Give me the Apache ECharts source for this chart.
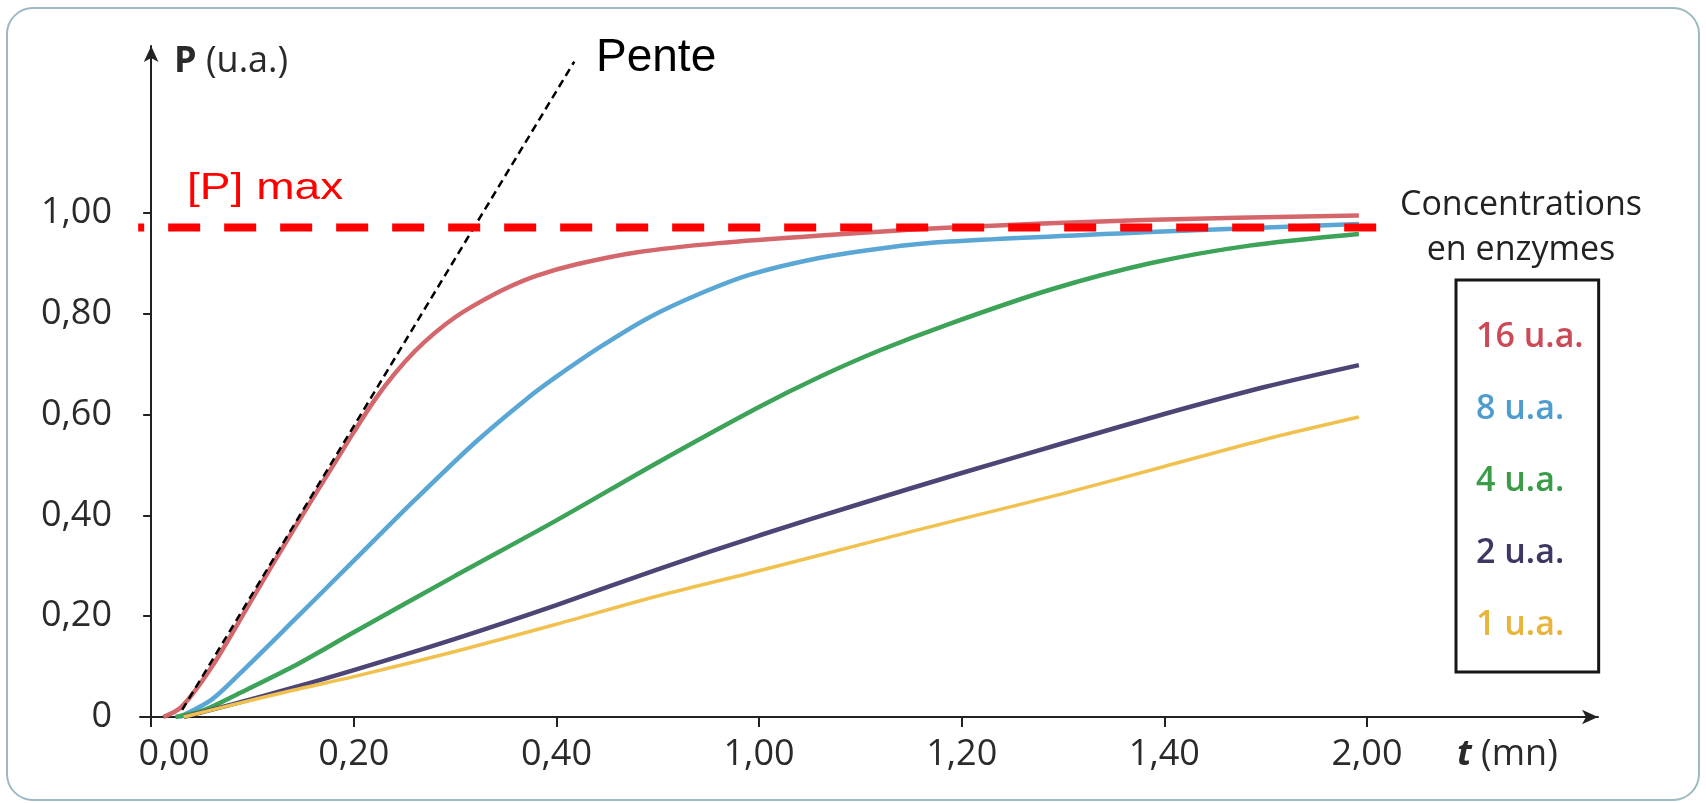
<!DOCTYPE html>
<html>
<head>
<meta charset="utf-8">
<script src="https://cdn.jsdelivr.net/npm/echarts@6/dist/echarts.min.js"></script>
<style>
  html, body { margin: 0; padding: 0; background: #fff; }
  #main { width: 1706px; height: 803px; }
</style>
</head>
<body>
<div id="main"></div>
<script>
// graduations de l'axe des temps (positions 0..6, étiquettes du document)
const xTickLabels = ['0,00', '0,20', '0,40', '1,00', '1,20', '1,40', '2,00']
const yTicks = [0, 0.2, 0.4, 0.6, 0.8, 1.0]

const seriesNames = ['16 u.a.', '8 u.a.', '4 u.a.', '2 u.a.', '1 u.a.']
const lineColors = ['#d4676c', '#5aa6d4', '#3da358', '#4d4575', '#f0c14e']
const textColors = ['#cc4a55', '#4f9dcf', '#3a9c47', '#3d3762', '#e9b43c']

// [t (position sur l'axe), P]
const enz16 = [[0.06, 0], [0.15, 0.02], [0.3, 0.1], [0.5, 0.235], [0.7, 0.37], [0.9, 0.5],
  [1.0, 0.565], [1.1, 0.627], [1.2, 0.68], [1.3, 0.725], [1.4, 0.762], [1.5, 0.793],
  [1.6, 0.818], [1.75, 0.85], [1.9, 0.875], [2.1, 0.898], [2.4, 0.922], [2.8, 0.94],
  [3.3, 0.955], [3.9, 0.97], [4.9, 0.986], [5.96, 0.995]]
const enz8 = [[0.14, 0], [0.3, 0.035], [0.44, 0.087], [0.7, 0.19], [1.0, 0.31], [1.3, 0.43],
  [1.6, 0.545], [1.85, 0.63], [2.0, 0.675], [2.22, 0.735], [2.46, 0.793], [2.71, 0.84],
  [2.96, 0.878], [3.29, 0.91], [3.61, 0.93], [3.94, 0.943], [4.93, 0.962], [5.96, 0.978]]
const enz4 = [[0.12, 0], [0.25, 0.012], [0.44, 0.048], [0.7, 0.1], [1.0, 0.168], [1.5, 0.28],
  [2.0, 0.39], [2.5, 0.505], [3.0, 0.615], [3.3, 0.675], [3.6, 0.728], [3.94, 0.78],
  [4.44, 0.848], [4.93, 0.9], [5.42, 0.935], [5.96, 0.958]]
const enz2 = [[0.16, 0], [0.4, 0.025], [0.7, 0.058], [1.0, 0.093], [1.5, 0.155], [2.0, 0.222],
  [2.5, 0.293], [3.0, 0.36], [3.5, 0.423], [4.0, 0.484], [4.5, 0.543], [5.0, 0.601],
  [5.5, 0.655], [5.96, 0.698]]
const enz1 = [[0.16, 0], [0.4, 0.024], [0.7, 0.053], [1.0, 0.08], [1.5, 0.13], [2.0, 0.184],
  [2.5, 0.24], [3.0, 0.29], [3.5, 0.342], [4.0, 0.393], [4.5, 0.443], [5.0, 0.497],
  [5.5, 0.551], [5.96, 0.595]]
const curves = [enz16, enz8, enz4, enz2, enz1]

// tangente à l'origine et plateau
const pente = [[0.153, 0.014], [2.088, 1.30]]
const pMax = [[-0.064, 0.971], [6.046, 0.971]]

const chartDom = document.getElementById('main')
const myChart = echarts.init(chartDom)
const font = '"Open Sans", "DejaVu Sans", sans-serif'

const series = curves.map((d, i) => ({
  name: seriesNames[i],
  type: 'line',
  data: d,
  smooth: 0.3,
  showSymbol: false,
  lineStyle: {color: lineColors[i], width: i === 4 ? 3.5 : 4.5},
  itemStyle: {color: lineColors[i]}
}))

series.push({
  name: 'Pente',
  type: 'line',
  data: pente,
  showSymbol: false,
  lineStyle: {color: '#000', width: 2.5, type: [8, 5]}
})
series.push({
  name: '[P] max',
  type: 'line',
  data: pMax,
  clip: false,
  showSymbol: false,
  lineStyle: {color: '#ff0000', width: 8, type: [32, 24], dashOffset: 26}
})

const option = {
  animation: false,
  backgroundColor: '#fff',
  grid: {left: 140, right: 108, top: 46, bottom: 86},
  xAxis: {
    type: 'value',
    min: -0.055,
    max: 7.14,
    splitLine: {show: false},
    axisLine: {
      lineStyle: {color: '#222', width: 2},
      symbol: ['none', 'arrow'],
      symbolSize: [11, 16]
    },
    axisTick: {
      show: true,
      customValues: [0, 1, 2, 3, 4, 5, 6],
      length: 10,
      lineStyle: {color: '#222', width: 2}
    },
    axisLabel: {
      customValues: [0, 1, 2, 3, 4, 5, 6],
      // le premier libellé est décalé à droite pour ne pas toucher l'axe vertical
      formatter: v => v === 0 ? '{first|' + xTickLabels[0] + '}' : xTickLabels[Math.round(v)],
      rich: {
        first: {padding: [0, 0, 0, 46], fontSize: 36, fontFamily: font, color: '#2a2a2a'}
      },
      margin: 20,
      fontSize: 36,
      fontFamily: font,
      color: '#2a2a2a'
    }
  },
  yAxis: {
    type: 'value',
    min: 0,
    max: 1.331,
    splitLine: {show: false},
    axisLine: {
      show: true,
      onZero: true,
      lineStyle: {color: '#222', width: 2},
      symbol: ['none', 'arrow'],
      symbolSize: [11, 16]
    },
    axisTick: {
      show: true,
      customValues: yTicks,
      length: 8,
      lineStyle: {color: '#222', width: 2}
    },
    axisLabel: {
      customValues: yTicks,
      formatter: v => v === 0 ? '0' : v.toFixed(2).replace('.', ','),
      margin: 28,
      fontSize: 36,
      fontFamily: font,
      color: '#2a2a2a'
    }
  },
  legend: {
    orient: 'vertical',
    left: 1456,
    top: 280,
    padding: [37, 15, 27, 15],
    itemGap: 32,
    itemWidth: 0,
    itemHeight: 0,
    icon: 'rect',
    selectedMode: false,
    borderColor: '#161616',
    borderWidth: 3,
    borderRadius: 0,
    data: seriesNames.map((n, i) => ({
      name: n,
      textStyle: {color: textColors[i]}
    })),
    textStyle: {fontSize: 34, fontWeight: 600, fontFamily: font, lineHeight: 40}
  },
  graphic: [
    {
      type: 'rect',
      shape: {x: 7, y: 8, width: 1692, height: 792, r: 26},
      style: {fill: 'none', stroke: '#9dbac3', lineWidth: 2}
    },
    {
      type: 'text', x: 174, y: 62,
      style: {
        text: '{b|P} (u.a.)', fill: '#2a2a2a', font: '36px ' + font,
        textVerticalAlign: 'middle',
        rich: {b: {fontWeight: 'bold', fontSize: 36, fontFamily: font, fill: '#2a2a2a'}}
      }
    },
    {
      type: 'text', x: 1457, y: 755,
      style: {
        text: '{t|t} (mn)', fill: '#2a2a2a', font: '36px ' + font,
        textVerticalAlign: 'middle',
        rich: {t: {fontWeight: 'bold', fontStyle: 'italic', fontSize: 36, fontFamily: font, fill: '#2a2a2a'}}
      }
    },
    {
      type: 'text', x: 596, y: 58,
      style: {text: 'Pente', fill: '#000', font: '46px "Liberation Sans", Arial, sans-serif', textVerticalAlign: 'middle'}
    },
    {
      type: 'text', x: 187, y: 189, scaleX: 1.28,
      style: {text: '[P] max', fill: '#ff0000', font: '36px "Liberation Sans", Arial, sans-serif', textVerticalAlign: 'middle'}
    },
    {
      type: 'text', x: 1521, y: 205,
      style: {text: 'Concentrations', fill: '#222', font: '34px ' + font, textAlign: 'center', textVerticalAlign: 'middle'}
    },
    {
      type: 'text', x: 1521, y: 250,
      style: {text: 'en enzymes', fill: '#222', font: '34px ' + font, textAlign: 'center', textVerticalAlign: 'middle'}
    }
  ],
  series: series
}

myChart.setOption(option)

window.addEventListener('resize', function () {
  myChart.resize()
})
</script>
</body>
</html>
